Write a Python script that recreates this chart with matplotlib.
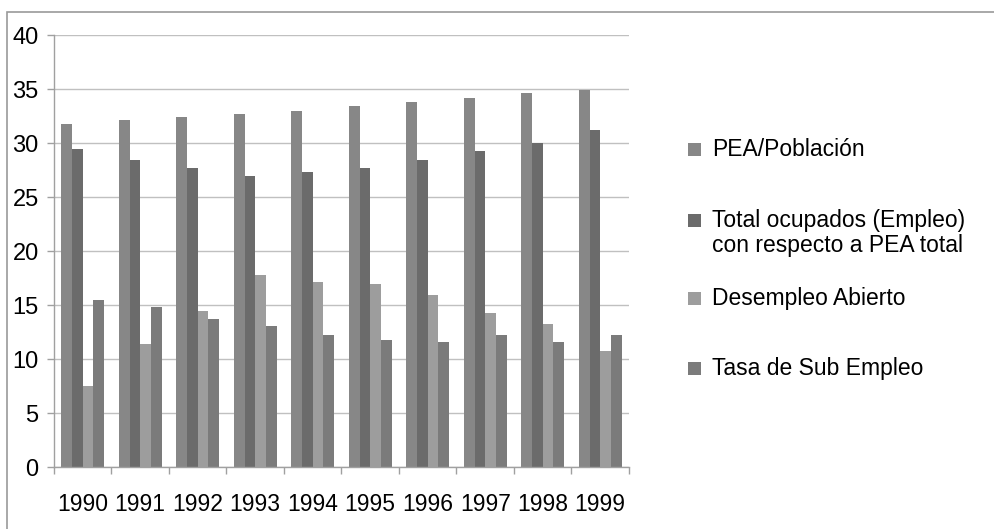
import matplotlib
matplotlib.use("Agg")
import matplotlib.pyplot as plt
import numpy as np
from matplotlib.patches import Rectangle

years = ["1990", "1991", "1992", "1993", "1994", "1995", "1996", "1997", "1998", "1999"]
series_names = ["PEA/Población",
                "Total ocupados (Empleo)\ncon respecto a PEA total",
                "Desempleo Abierto",
                "Tasa de Sub Empleo"]
pea_poblacion = [31.8, 32.1, 32.4, 32.7, 33.0, 33.4, 33.8, 34.2, 34.6, 34.9]
total_ocupados = [29.4, 28.4, 27.7, 26.9, 27.3, 27.7, 28.4, 29.3, 30.0, 31.2]
desempleo_abierto = [7.5, 11.4, 14.4, 17.8, 17.1, 16.9, 15.9, 14.3, 13.2, 10.7]
tasa_sub_empleo = [15.5, 14.85, 13.7, 13.1, 12.2, 11.8, 11.6, 12.2, 11.6, 12.25]
y_ticks = [0, 5, 10, 15, 20, 25, 30, 35, 40]

colors = ["#878787", "#6b6b6b", "#9d9d9d", "#7b7b7b"]
data = [pea_poblacion, total_ocupados, desempleo_abierto, tasa_sub_empleo]

plt.rcParams['font.family'] = ['Liberation Sans', 'DejaVu Sans']
FS = 16.5

W, H = 995, 529
fig = plt.figure(figsize=(W / 100, H / 100), dpi=100)
ax = fig.add_axes([54 / W, 1 - 467 / H, (629 - 54) / W, (467 - 35) / H])

x = np.arange(len(years))
bw = 0.186
for i, (vals, c) in enumerate(zip(data, colors)):
    off = (i - 1.5) * bw
    ax.bar(x + off, vals, width=bw, color=c, linewidth=0, zorder=2)

ax.set_xlim(-0.5, len(years) - 0.5)
ax.set_ylim(0, 40)
ax.set_yticks(y_ticks)
ax.set_yticklabels([str(v) for v in y_ticks], fontsize=17)
ax.set_xticks(x)
ax.set_xticklabels(years, fontsize=FS)
ax.set_xticks(np.arange(-0.5, len(years)), minor=True)
ax.tick_params(axis='x', which='major', length=0, pad=19)
ax.tick_params(axis='x', which='minor', length=5, color='#a0a0a0', width=1)
ax.tick_params(axis='y', which='major', length=5, color='#a0a0a0', width=1, pad=6)

ax.yaxis.grid(True, color='#c0c0c0', linewidth=1, zorder=0)
ax.set_axisbelow(True)
for s in ['top', 'right']:
    ax.spines[s].set_visible(False)
for s in ['left', 'bottom']:
    ax.spines[s].set_color('#a0a0a0')
    ax.spines[s].set_linewidth(1)

# outer frame (only top and left visible within the image)
fig.patches.append(Rectangle((7 / W, -0.1), 1.2, 1 - 12 / H + 0.1,
                             transform=fig.transFigure, fill=False,
                             edgecolor='#9a9a9a', linewidth=1.2))

# legend: square aligned with first text line
first_line_y = [149, 220, 298, 368]
sq = 13
for name, c, yy in zip(series_names, colors, first_line_y):
    fig.patches.append(Rectangle((688 / W, 1 - (yy + sq / 2) / H), sq / W, sq / H,
                                 transform=fig.transFigure, facecolor=c,
                                 edgecolor='none'))
    fig.text(712 / W, 1 - (yy - 11) / H, name, fontsize=FS, va='top', ha='left',
             linespacing=1.1)

fig.savefig("out.png", dpi=100)
